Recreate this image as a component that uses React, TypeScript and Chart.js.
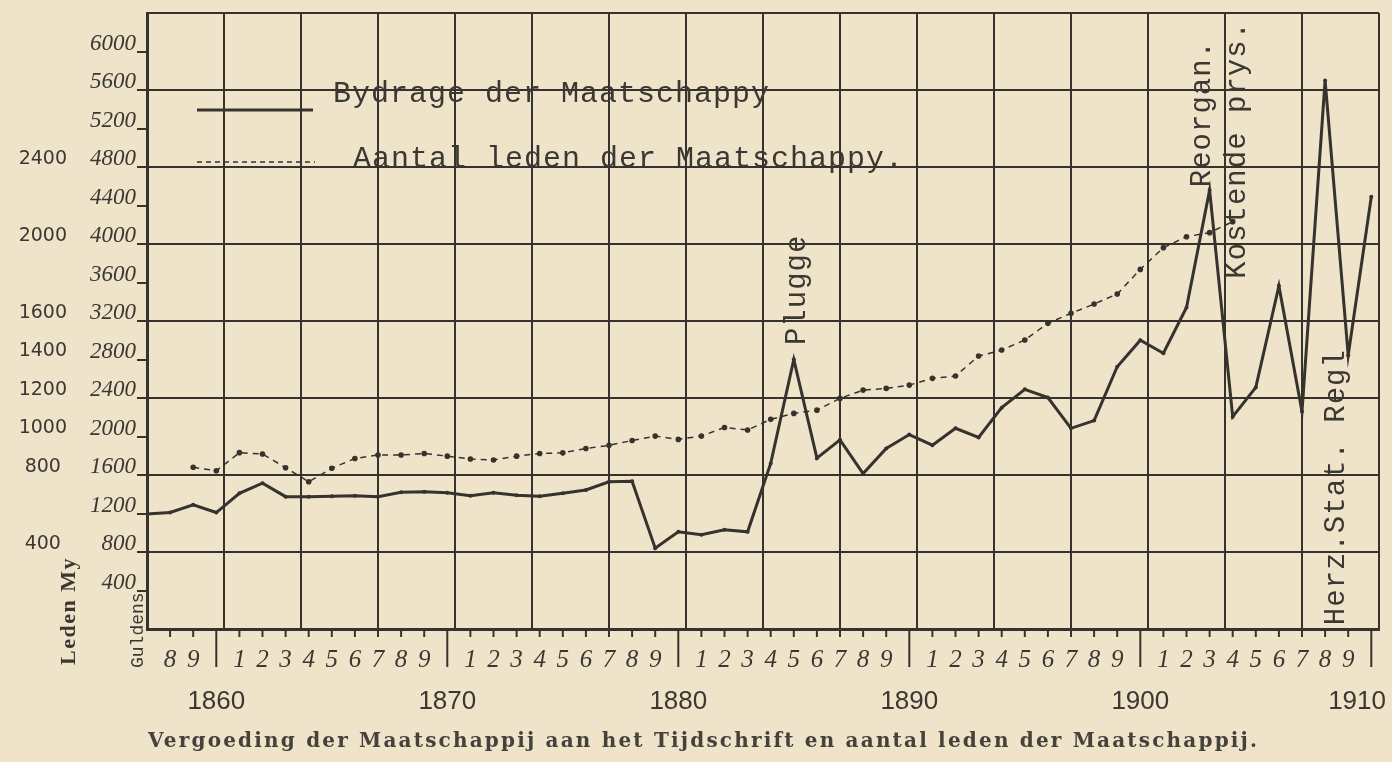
import React, { useEffect, useRef } from 'react';
import { Chart, registerables } from 'chart.js';

Chart.register(...registerables);

// ---- data ----
const years = [
  1857, 1858, 1859, 1860, 1861, 1862, 1863, 1864, 1865, 1866,
  1867, 1868, 1869, 1870, 1871, 1872, 1873, 1874, 1875, 1876,
  1877, 1878, 1879, 1880, 1881, 1882, 1883, 1884, 1885, 1886,
  1887, 1888, 1889, 1890, 1891, 1892, 1893, 1894, 1895, 1896,
  1897, 1898, 1899, 1900, 1901, 1902, 1903, 1904, 1905, 1906,
  1907, 1908, 1909, 1910,
];
// Bydrage der Maatschappy (guldens)
const bydrage = [
  1195, 1210, 1290, 1210, 1410, 1515, 1375, 1375, 1380, 1385,
  1375, 1420, 1425, 1415, 1385, 1415, 1390, 1380, 1410, 1445,
  1530, 1535, 840, 1010, 980, 1030, 1010, 1720, 2800, 1775,
  1965, 1615, 1875, 2020, 1910, 2085, 1990, 2300, 2490, 2405,
  2085, 2165, 2725, 3000, 2865, 3340, 4560, 2205, 2510, 3565,
  2260, 5700, 2845, 4490,
];
const ledenYears = [
  1859, 1860, 1861, 1862, 1863, 1864, 1865, 1866, 1867, 1868,
  1869, 1870, 1871, 1872, 1873, 1874, 1875, 1876, 1877, 1878,
  1879, 1880, 1881, 1882, 1883, 1884, 1885, 1886, 1887, 1888,
  1889, 1890, 1891, 1892, 1893, 1894, 1895, 1896, 1897, 1898,
  1899, 1900, 1901, 1902, 1903, 1904,
];
// Aantal leden der Maatschappy
const leden = [
  840, 822, 916, 909, 838, 765, 835, 886, 904, 904,
  912, 898, 883, 878, 898, 912, 915, 938, 954, 979,
  1002, 985, 1002, 1047, 1034, 1089, 1120, 1137, 1198, 1241,
  1250, 1267, 1302, 1314, 1418, 1449, 1501, 1588, 1640, 1688,
  1740, 1868, 1981, 2038, 2059, 2116,
];

const guldenTicks = [0, 400, 800, 1200, 1600, 2000, 2400, 2800, 3200, 3600, 4000, 4400, 4800, 5200, 5600, 6000, 6400];
const ledenTicks = [400, 800, 1000, 1200, 1400, 1600, 2000, 2400];
const yearTicks = [
  1858, 1859, 1860, 1861, 1862, 1863, 1864, 1865, 1866, 1867, 1868, 1869,
  1870, 1871, 1872, 1873, 1874, 1875, 1876, 1877, 1878, 1879, 1880, 1881,
  1882, 1883, 1884, 1885, 1886, 1887, 1888, 1889, 1890, 1891, 1892, 1893,
  1894, 1895, 1896, 1897, 1898, 1899, 1900, 1901, 1902, 1903, 1904, 1905,
  1906, 1907, 1908, 1909, 1910,
];
const decadeLabels = [1860, 1870, 1880, 1890, 1900, 1910];

const annotations = [
  { text: 'Plugge', year: 1885.5, value: 2950 },
  { text: 'Reorgan.', year: 1903.0, value: 4590 },
  { text: 'Kostende prys.', year: 1904.55, value: 3640 },
  { text: 'Herz.Stat. Regl', year: 1908.8, value: 40 },
];
const legendLabels = ['Bydrage der Maatschappy', 'Aantal leden der Maatschappy.'];
const caption = 'Vergoeding der Maatschappij aan het Tijdschrift en aantal leden der Maatschappij.';
const axisTitles = ['Leden My', 'Guldens'];

// ---- styles ----
const PAPER = '#efe4ca';
const INK = '#36322d';
const TEXT = '#3b3732';
const CLEAR = 'rgba(0,0,0,0)';

function rotatedText(ctx: CanvasRenderingContext2D, text: string, x: number, y: number) {
  ctx.save();
  ctx.translate(x, y);
  ctx.rotate(-Math.PI / 2);
  ctx.textAlign = 'left';
  ctx.textBaseline = 'alphabetic';
  ctx.fillText(text, 0, 0);
  ctx.restore();
}

const decor = {
  id: 'decor',
  beforeDraw(chart: any) {
    const { ctx, width, height } = chart;
    ctx.save();
    ctx.fillStyle = PAPER;
    ctx.fillRect(0, 0, width, height);
    ctx.restore();
  },
  afterDraw(chart: any) {
    const { ctx, chartArea: ca, scales } = chart;
    const xs = scales.x;
    const ys = scales.y;
    ctx.save();
    ctx.strokeStyle = INK;
    ctx.fillStyle = TEXT;
    ctx.lineCap = 'butt';

    // year ticks and digits
    ctx.lineWidth = 2;
    ctx.textAlign = 'center';
    ctx.textBaseline = 'middle';
    ctx.font = 'italic 25px "Liberation Serif"';
    for (const yr of yearTicks) {
      const px = xs.getPixelForValue(yr);
      const isDecade = yr % 10 === 0;
      ctx.beginPath();
      ctx.moveTo(px, ca.bottom);
      ctx.lineTo(px, ca.bottom + (isDecade ? 38 : 8));
      ctx.stroke();
      if (!isDecade) ctx.fillText(String(yr % 10), px, ca.bottom + 31);
    }
    // decade labels
    ctx.font = '26px "Liberation Sans"';
    for (const d of decadeLabels) {
      const w = ctx.measureText(String(d)).width;
      let px = xs.getPixelForValue(d);
      px = Math.min(px, chart.width - 6 - w / 2);
      ctx.fillText(String(d), px, ca.bottom + 73);
    }

    // legend
    ctx.lineWidth = 3;
    ctx.beginPath();
    ctx.moveTo(ca.left + 50, ca.top + 97);
    ctx.lineTo(ca.left + 166, ca.top + 97);
    ctx.stroke();
    ctx.lineWidth = 1.4;
    ctx.setLineDash([5, 4]);
    ctx.beginPath();
    ctx.moveTo(ca.left + 50, ca.top + 149);
    ctx.lineTo(ca.left + 168, ca.top + 149);
    ctx.stroke();
    ctx.setLineDash([]);
    ctx.font = '30px "Liberation Mono"';
    (ctx as any).letterSpacing = '1px';
    ctx.textAlign = 'left';
    ctx.textBaseline = 'alphabetic';
    ctx.fillText(legendLabels[0], ca.left + 186, ca.top + 89);
    ctx.fillText(legendLabels[1], ca.left + 206, ca.top + 154);

    // annotations
    ctx.font = '29px "Liberation Mono"';
    for (const a of annotations) {
      rotatedText(ctx, a.text, xs.getPixelForValue(a.year), ys.getPixelForValue(a.value));
    }
    (ctx as any).letterSpacing = '0px';

    // axis titles
    ctx.font = 'bold 22px "Liberation Serif"';
    (ctx as any).letterSpacing = '1.5px';
    rotatedText(ctx, axisTitles[0], 75, 665);
    ctx.font = '18px "Liberation Mono"';
    (ctx as any).letterSpacing = '0px';
    rotatedText(ctx, axisTitles[1], 143, 668);

    // caption
    ctx.font = 'bold 20px "DejaVu Serif"';
    ctx.fillStyle = '#45413b';
    (ctx as any).letterSpacing = '0px';
    const w0 = ctx.measureText(caption).width;
    const ls = (1109 - w0) / (caption.length - 1);
    (ctx as any).letterSpacing = ls + 'px';
    ctx.textAlign = 'left';
    ctx.fillText(caption, 148, 747);
    (ctx as any).letterSpacing = '0px';
    ctx.restore();
  },
};

export default function App() {
  const canvasRef = useRef<HTMLCanvasElement | null>(null);

  useEffect(() => {
    const canvas = canvasRef.current;
    if (!canvas) return;
    const chart = new Chart(canvas, {
      type: 'line',
      data: {
        datasets: [
          {
            label: legendLabels[0],
            data: years.map((yr, i) => ({ x: yr, y: bydrage[i] })),
            yAxisID: 'y',
            borderColor: INK,
            backgroundColor: INK,
            borderWidth: 3,
            pointRadius: 2,
            pointBorderWidth: 0,
            pointBackgroundColor: INK,
            tension: 0,
          },
          {
            label: legendLabels[1],
            data: ledenYears.map((yr, i) => ({ x: yr, y: leden[i] })),
            yAxisID: 'y2',
            borderColor: INK,
            backgroundColor: INK,
            borderWidth: 1.5,
            borderDash: [6, 5],
            pointRadius: 2.8,
            pointBorderWidth: 0,
            pointBackgroundColor: INK,
            tension: 0,
          },
        ],
      } as any,
      options: {
        animation: false,
        responsive: false,
        devicePixelRatio: 1,
        layout: { padding: { left: 10, right: 13, top: 13, bottom: 133 } },
        plugins: {
          legend: { display: false },
          title: { display: false },
          tooltip: { enabled: false },
        },
        scales: {
          x: {
            type: 'linear',
            position: 'bottom',
            min: 1857,
            max: 1857 + 160 / 3,
            afterBuildTicks: (s: any) => {
              s.ticks = Array.from({ length: 17 }, (_, i) => ({ value: 1857 + (i * 10) / 3 }));
            },
            ticks: { display: false },
            grid: { color: INK, lineWidth: 2, drawTicks: false },
            border: { display: true, color: INK, width: 3 },
          },
          y: {
            type: 'linear',
            position: 'left',
            weight: 0,
            min: 0,
            max: 6400,
            afterBuildTicks: (s: any) => {
              s.ticks = guldenTicks.map((v) => ({ value: v }));
            },
            afterFit: (s: any) => {
              s.width = 72;
              s.paddingTop = 0;
              s.paddingBottom = 0;
            },
            ticks: {
              autoSkip: false,
              padding: 1,
              labelOffset: -8,
              color: TEXT,
              font: { family: 'Liberation Serif', style: 'italic', size: 23 },
              callback: (v: any) => (v === 0 || v === 6400 ? '' : String(v)),
            },
            grid: {
              color: (c: any) => (c.tick && c.tick.value % 800 === 0 ? INK : CLEAR),
              lineWidth: 2,
              drawTicks: true,
              tickLength: 10,
              tickWidth: 2,
              tickColor: (c: any) => (c.tick && c.tick.value > 0 && c.tick.value < 6400 ? INK : CLEAR),
            },
            border: { display: true, color: INK, width: 3 },
          },
          y2: {
            type: 'linear',
            position: 'left',
            weight: 1,
            min: 0,
            max: 3200,
            afterBuildTicks: (s: any) => {
              s.ticks = ledenTicks.map((v) => ({ value: v }));
            },
            afterFit: (s: any) => {
              s.width = 65;
              s.paddingTop = 0;
              s.paddingBottom = 0;
            },
            ticks: {
              autoSkip: false,
              crossAlign: 'center',
              padding: 8,
              labelOffset: -8,
              color: TEXT,
              font: { family: 'DejaVu Sans', size: 19 },
              callback: (v: any) => String(v),
            },
            grid: { display: false, drawTicks: false, drawOnChartArea: false },
            border: { display: false },
          },
        },
      } as any,
      plugins: [decor],
    });
    return () => chart.destroy();
  }, []);

  return (
    <div style={{ position: 'fixed', left: 0, top: 0, width: 1392, height: 762, background: PAPER }}>
      <canvas ref={canvasRef} width={1392} height={762} style={{ display: 'block', width: 1392, height: 762 }} />
    </div>
  );
}
